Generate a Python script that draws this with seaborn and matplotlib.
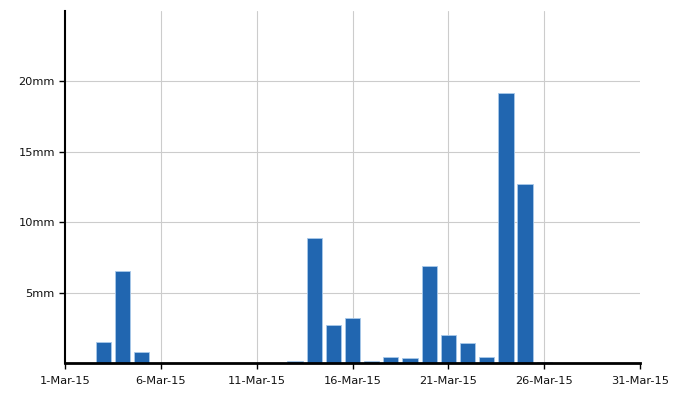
import matplotlib
matplotlib.use("Agg")
import matplotlib.pyplot as plt
import seaborn as sns
import pandas as pd

days = [3, 4, 5, 13, 14, 15, 16, 17, 18, 19, 20, 21, 22, 23, 24, 25, 26]
rain_mm = [1.5, 6.5, 0.8, 0.15, 8.9, 2.7, 3.2, 0.12, 0.4, 0.33, 6.9, 2.0, 1.4, 0.4, 19.2, 12.7, 0.1]
xtick_days = [1, 6, 11, 16, 21, 26, 31]
xtick_labels = ["1-Mar-15", "6-Mar-15", "11-Mar-15", "16-Mar-15", "21-Mar-15", "26-Mar-15", "31-Mar-15"]
ytick_vals = [5, 10, 15, 20]
ytick_labels = ["5mm", "10mm", "15mm", "20mm"]

sns.set_style("white")
plt.rcParams['font.family'] = ['DejaVu Sans']

df = pd.DataFrame({"day": days, "rain": rain_mm})

fig = plt.figure(figsize=(6.94, 4.04), dpi=100)
ax = fig.add_axes([65/694, (404-363)/404, (640-65)/694, (363-11)/404])

sns.barplot(data=df, x="day", y="rain", native_scale=True, color="#2166b0",
            saturation=1, width=0.8, edgecolor="#a9c9ea", linewidth=0.6, ax=ax, zorder=3)

ax.set_xlim(1, 31)
ax.set_ylim(0, 25)
ax.set_xticks(xtick_days)
ax.set_xticklabels(xtick_labels)
ax.set_yticks(ytick_vals)
ax.set_yticklabels(ytick_labels)
ax.set_xlabel("")
ax.set_ylabel("")

for v in ytick_vals:
    ax.axhline(v, color="#cccccc", linewidth=0.8, zorder=1)
for d in xtick_days[1:-1]:
    ax.axvline(d, color="#cccccc", linewidth=0.8, zorder=1)

for s in ["top", "right"]:
    ax.spines[s].set_visible(False)
ax.spines["left"].set_linewidth(1.5)
ax.spines["bottom"].set_linewidth(2.0)
ax.spines["left"].set_color("black")
ax.spines["bottom"].set_color("black")
ax.spines["left"].set_zorder(5)
ax.spines["bottom"].set_zorder(5)

ax.tick_params(axis="both", which="major", direction="out", length=4.3, width=1.0,
               color="black", labelsize=8.2, labelcolor="#111111",
               bottom=True, left=True)
ax.tick_params(axis="x", pad=5)
ax.tick_params(axis="y", pad=3)

fig.savefig("out.png", dpi=100)
